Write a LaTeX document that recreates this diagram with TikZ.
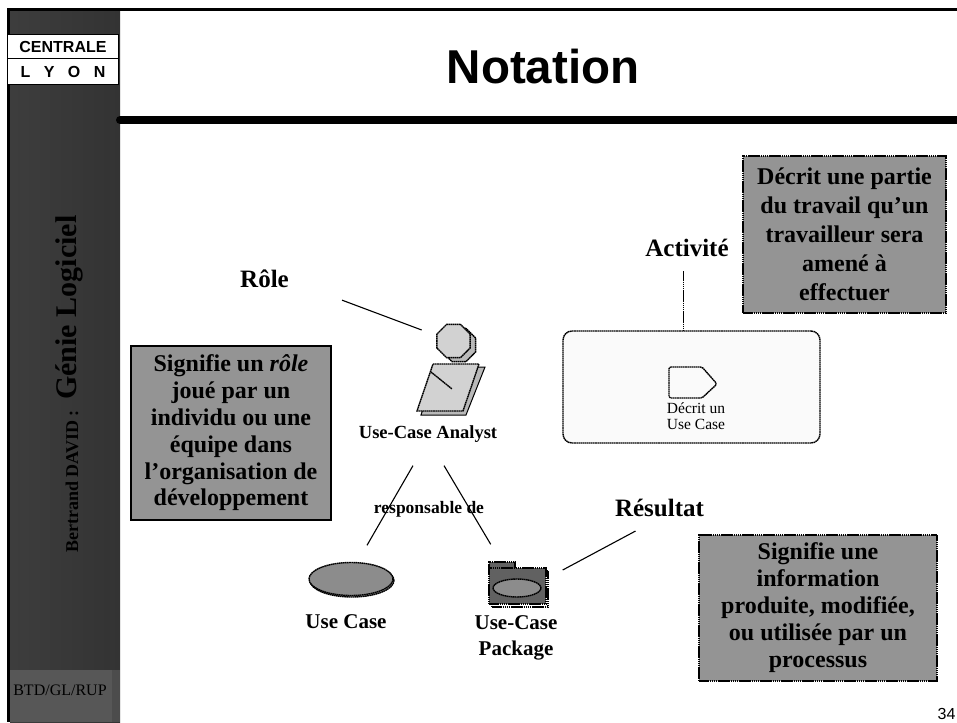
\documentclass[tikz,border=0pt]{standalone}
\usepackage{fontspec}
\setmainfont{Liberation Serif}
\setsansfont{Liberation Sans}
\usetikzlibrary{shapes.geometric}
\tikzstyle{dots}=[line width=1.4pt, dash pattern=on 1.6pt off 0.5pt]
\tikzstyle{note}=[draw, fill=black!42, text=black, align=center, inner sep=0pt, font=\bfseries\fontsize{24}{29}\selectfont]
\tikzstyle{lbl}=[inner sep=0pt, align=center, font=\bfseries\fontsize{21}{26}\selectfont]
\tikzstyle{title}=[inner sep=0pt, font=\bfseries\fontsize{25}{30}\selectfont]
\tikzstyle{small}=[inner sep=0pt, align=center, font=\fontsize{15.5}{16}\selectfont]
\tikzstyle{icon}=[draw, dots]
\tikzstyle{logo}=[draw, line width=1.5pt, fill=white, minimum width=111pt, inner sep=0pt, font=\sffamily\bfseries\fontsize{16}{18}\selectfont]
\tikzstyle{link}=[line width=1.1pt]

\begin{document}
\begin{tikzpicture}[x=1pt,y=-1pt]
        \useasboundingbox (0,0) rectangle (957,722);
        \shade[left color=black!76, middle color=black!58, right color=black!80] (10,11) rectangle (120,722);
        \fill[black!66] (10,670) rectangle (112,722);
        \fill[black!70] (112,670) rectangle (120,722);
        \fill (7,8) rectangle (957,11);
        \fill (7,8) rectangle (10,722);
        \draw[line width=8pt, line cap=round] (120,120) -- (957,120);

        \node [logo, minimum height=24pt] (cl) at (63,46.5) {CENTRALE};
        \node [logo, minimum height=26pt] (ly) [below of=cl, node distance=25pt] {L\hspace{13.5pt}Y\hspace{13.5pt}O\hspace{13.5pt}N};
        \node [inner sep=0pt, anchor=base west, rotate=90, font=\bfseries\fontsize{30}{32}\selectfont] (gl) at (76,400) {Génie Logiciel};
        \node [inner sep=0pt, anchor=base west, rotate=90, font=\bfseries\fontsize{18}{20}\selectfont] (bd) at (78,553) {Bertrand DAVID :};
        \node [inner sep=0pt, font=\fontsize{16}{18}\selectfont] (btd) at (60,690) {BTD/GL/RUP};
        \node [inner sep=0pt, font=\sffamily\bfseries\fontsize{47.5}{50}\selectfont] (ttl) at (543,67) {Notation};
        \node [inner sep=0pt, anchor=base, font=\sffamily\fontsize{16}{18}\selectfont] (num) at (946.5,719.5) {34};

        \node [title] (rl) at (264.5,279) {Rôle};
        \node [regular polygon, regular polygon sides=8, minimum size=36pt, icon, fill=gray!55] (hd2) at (459,345) {};
        \node [regular polygon, regular polygon sides=8, minimum size=36pt, icon, fill=gray!35] (hd) at (453.5,341) {};
        \draw [fill=gray!55, line width=1pt] (437,367) -- (485,367) -- (466,415) -- (421,415) -- cycle;
        \draw [icon, fill=gray!35] (433,364) -- (479,364) -- (463,411) -- (417,411) -- cycle;
        \draw [icon] (431,372) -- (452,389);
        \node [lbl, font=\bfseries\fontsize{18.5}{24}\selectfont] (uca) at (428,434) {Use-Case Analyst};
        \node [note, draw=black, line width=1.4pt, minimum width=200pt, minimum height=174pt, font=\bfseries\fontsize{24}{26.8}\selectfont] (n1) at (231,433) {Signifie un \textit{rôle}\\joué par un\\individu ou une\\équipe dans\\l’organisation de\\développement};

        \node [title] (al) at (687,248) {Activité};
        \node [note, dots, minimum width=203pt, minimum height=157pt] (n2) at (844.5,234.5) {Décrit une partie\\du travail qu’un\\travailleur sera\\amené à\\effectuer};
        \node [icon, rounded corners=9pt, fill=gray!4, minimum width=257pt, minimum height=112pt] (ab) at (691.5,387) {};
        \draw [icon, fill=gray!4, rounded corners=1.5pt] (669,367) -- (702,367) -- (717,384) -- (702,398) -- (669,398) -- cycle;
        \node [small] (dl) at (696,416) {Décrit un\\Use Case};

        \node [lbl, font=\bfseries\fontsize{17.5}{20}\selectfont] (rp) at (429,509) {responsable de};
        \node [ellipse, icon, fill=gray!90, minimum width=84pt, minimum height=33pt] (uc2) at (352,580.5) {};
        \node [ellipse, icon, fill=gray!90, minimum width=84pt, minimum height=33pt] (uc) at (351,579) {};
        \node [lbl] (ul) at (346,622) {Use Case};

        \node [icon, fill=white, minimum width=56pt, minimum height=36pt] (pk2) at (520,589) {};
        \node [icon, fill=black!62, minimum width=26pt, minimum height=7pt] (tb) at (502,565.5) {};
        \node [icon, fill=black!62, minimum width=57pt, minimum height=36pt] (pk) at (517.5,586) {};
        \node [ellipse, icon, fill=gray!90, minimum width=48pt, minimum height=18pt] (pe) at (517,588) {};
        \node [lbl] (pl) at (516,638) {Use-Case\\Package};

        \node [title] (rs) at (659.5,508) {Résultat};
        \node [note, dots, minimum width=238pt, minimum height=146pt, font=\bfseries\fontsize{24}{27}\selectfont] (n3) at (818,608) {Signifie une\\information\\produite, modifiée,\\ou utilisée par un\\processus};

        \draw [link] ([xshift=53pt,yshift=-12pt]rl.south east) -- ([xshift=-14.5pt,yshift=11pt]hd.west);
        \draw [link] ([xshift=-15pt,yshift=-23pt]uca.south) -- ([xshift=16pt,yshift=16.5pt]uc.north);
        \draw [link] ([xshift=16pt,yshift=-23pt]uca.south) -- ([xshift=-25pt,yshift=17pt]tb.north east);
        \draw [link, dots, line width=1.1pt] ([xshift=-3.5pt,yshift=-14pt]al.south) -- ([xshift=-8pt]ab.north);
        \draw [link] ([xshift=16pt,yshift=16pt]pk.east) -- ([xshift=-24pt,yshift=-14pt]rs.south);
\end{tikzpicture}
\end{document}
